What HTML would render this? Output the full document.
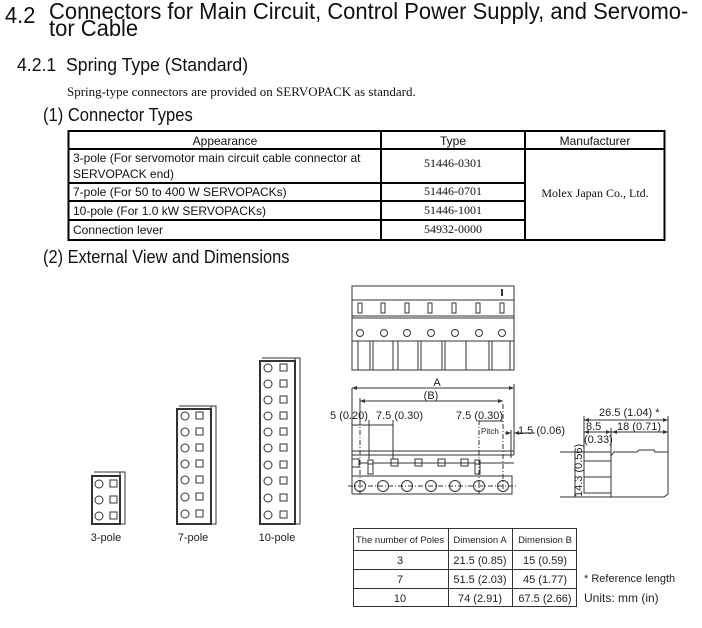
<!DOCTYPE html>
<html><head><meta charset="utf-8"><style>
body{margin:0;width:702px;height:628px;background:#fff;overflow:hidden;font-family:"Liberation Sans",sans-serif;color:#111}
.a{position:absolute;white-space:nowrap}
.s{font-family:"Liberation Serif",serif}
</style></head><body>
<div class="a" style="left:5px;top:3px;font-size:23px;line-height:24px;transform:scaleX(0.95);transform-origin:0 0">4.2</div>
<div class="a" style="left:49px;top:3px;font-size:23px;line-height:17px;transform:scaleX(0.955);transform-origin:0 0">Connectors for Main Circuit, Control Power Supply, and Servomo-<br>tor Cable</div>
<div class="a" style="left:17px;top:55px;font-size:18px;transform:scaleX(0.98);transform-origin:0 0">4.2.1&nbsp; Spring Type (Standard)</div>
<div class="a s" style="left:67px;top:84px;font-size:13px">Spring-type connectors are provided on SERVOPACK as standard.</div>
<div class="a" style="left:43px;top:105px;font-size:18px;transform:scaleX(0.92);transform-origin:0 0">(1) Connector Types</div>
<div class="a" style="left:43px;top:247px;font-size:18px;transform:scaleX(0.91);transform-origin:0 0">(2) External View and Dimensions</div>
<svg class="a" style="left:0;top:0" width="702" height="628" xmlns="http://www.w3.org/2000/svg" font-family="Liberation Sans, sans-serif" fill="none" stroke="#222">
<g stroke="#000" stroke-width="2">
<rect x="68.5" y="131" width="596" height="109"/>
<line x1="381" y1="131" x2="381" y2="240"/><line x1="525" y1="131" x2="525" y2="240"/>
<line x1="68" y1="149" x2="664" y2="149"/><line x1="68" y1="183" x2="525" y2="183"/>
<line x1="68" y1="201" x2="525" y2="201"/><line x1="68" y1="220" x2="525" y2="220"/>
</g>
<g fill="#111" stroke="none" font-size="12">
<text x="225" y="145" text-anchor="middle">Appearance</text>
<text x="453" y="145" text-anchor="middle">Type</text>
<text x="595" y="145" text-anchor="middle">Manufacturer</text>
<text x="73" y="162">3-pole (For servomotor main circuit cable connector at</text>
<text x="73" y="178">SERVOPACK end)</text>
<text x="73" y="196">7-pole (For 50 to 400 W SERVOPACKs)</text>
<text x="73" y="215">10-pole (For 1.0 kW SERVOPACKs)</text>
<text x="73" y="234">Connection lever</text>
<g font-family="Liberation Serif, serif"><text x="453" y="167" text-anchor="middle">51446-0301</text>
<text x="453" y="195" text-anchor="middle">51446-0701</text>
<text x="453" y="214" text-anchor="middle">51446-1001</text>
<text x="453" y="233" text-anchor="middle">54932-0000</text>
<text x="595" y="197" text-anchor="middle">Molex Japan Co., Ltd.</text></g>
</g>
<g stroke="#333" stroke-width="1">
<rect x="92" y="476" width="28" height="48" stroke-width="2"/><rect x="120" y="472" width="5" height="52"/><line x1="94" y1="472" x2="125" y2="472"/>
<rect x="177" y="409" width="34" height="115" stroke-width="2"/><rect x="211" y="406" width="5" height="118"/><line x1="179" y1="406" x2="216" y2="406"/>
<rect x="260" y="361" width="35" height="163" stroke-width="2"/><rect x="295" y="358" width="5" height="166"/><line x1="262" y1="358" x2="300" y2="358"/>
</g>
<g stroke="#333" stroke-width="1">
<circle cx="99" cy="484" r="4"/><circle cx="99" cy="500" r="4"/><circle cx="99" cy="516" r="4"/>
<rect x="110" y="480" width="7" height="7"/><rect x="110" y="496" width="7" height="7"/><rect x="110" y="512" width="7" height="7"/>
<circle cx="185" cy="416" r="4"/><circle cx="185" cy="432" r="4"/><circle cx="185" cy="448" r="4"/><circle cx="185" cy="464" r="4"/><circle cx="185" cy="480" r="4"/><circle cx="185" cy="497" r="4"/><circle cx="185" cy="514" r="4"/>
<rect x="196" y="412" width="7" height="7"/><rect x="196" y="428" width="7" height="7"/><rect x="196" y="444" width="7" height="7"/><rect x="196" y="460" width="7" height="7"/><rect x="196" y="476" width="7" height="7"/><rect x="196" y="493" width="7" height="7"/><rect x="196" y="510" width="7" height="7"/>
<circle cx="268" cy="368" r="4"/><circle cx="268" cy="384" r="4"/><circle cx="268" cy="400" r="4"/><circle cx="268" cy="416" r="4"/><circle cx="268" cy="432" r="4"/><circle cx="268" cy="448" r="4"/><circle cx="268" cy="465" r="4"/><circle cx="268" cy="481" r="4"/><circle cx="268" cy="498" r="4"/><circle cx="268" cy="515" r="4"/>
<rect x="280" y="364" width="7" height="7"/><rect x="280" y="380" width="7" height="7"/><rect x="280" y="396" width="7" height="7"/><rect x="280" y="412" width="7" height="7"/><rect x="280" y="428" width="7" height="7"/><rect x="280" y="444" width="7" height="7"/><rect x="280" y="461" width="7" height="7"/><rect x="280" y="477" width="7" height="7"/><rect x="280" y="494" width="7" height="7"/><rect x="280" y="511" width="7" height="7"/>
</g>
<g fill="#222" stroke="none" font-size="11">
<text x="106" y="541" text-anchor="middle">3-pole</text>
<text x="193" y="541" text-anchor="middle">7-pole</text>
<text x="277" y="541" text-anchor="middle">10-pole</text>
</g>
<g stroke="#333" stroke-width="1">
<rect x="352" y="286" width="162" height="84"/>
<line x1="352" y1="300" x2="514" y2="300"/><line x1="352" y1="316" x2="514" y2="316"/><line x1="352" y1="318" x2="514" y2="318"/>
<line x1="352" y1="341" x2="514" y2="341"/>
<g><rect x="358" y="303" width="4" height="10"/><rect x="381" y="303" width="4" height="10"/><rect x="405" y="303" width="4" height="10"/><rect x="428" y="303" width="4" height="10"/><rect x="452" y="303" width="4" height="10"/><rect x="476" y="303" width="4" height="10"/><rect x="500" y="303" width="4" height="10"/></g>
<g><circle cx="360" cy="333" r="3.5"/><circle cx="384" cy="333" r="3.5"/><circle cx="407" cy="333" r="3.5"/><circle cx="431" cy="333" r="3.5"/><circle cx="455" cy="333" r="3.5"/><circle cx="479" cy="333" r="3.5"/><circle cx="502" cy="333" r="3.5"/></g>
<line x1="358" y1="341" x2="358" y2="370"/><line x1="370" y1="341" x2="370" y2="370"/><line x1="373" y1="341" x2="373" y2="370"/>
<line x1="393" y1="341" x2="393" y2="370"/><line x1="398" y1="341" x2="398" y2="370"/><line x1="418" y1="341" x2="418" y2="370"/><line x1="421" y1="341" x2="421" y2="370"/>
<line x1="442" y1="341" x2="442" y2="370"/><line x1="445" y1="341" x2="445" y2="370"/><line x1="466" y1="341" x2="466" y2="370"/><line x1="489" y1="341" x2="489" y2="370"/><line x1="492" y1="341" x2="492" y2="370"/><line x1="510" y1="341" x2="510" y2="370"/>
<line x1="502" y1="289" x2="502" y2="296" stroke-width="2"/>
</g>
<g stroke="#333" stroke-width="1">
<line x1="352" y1="388" x2="352" y2="494"/><line x1="514" y1="384" x2="514" y2="455"/>
<line x1="352" y1="451" x2="514" y2="451"/><line x1="352" y1="455" x2="514" y2="455"/>
<rect x="352" y="459" width="7" height="8"/>
<path d="M359 463 H368 V474 H373 V463 H475 V474 H480 V463 H514"/>
<rect x="368" y="460" width="5" height="4"/><rect x="475" y="460" width="5" height="4"/>
<rect x="391" y="459" width="7" height="7"/><rect x="415" y="459" width="7" height="7"/><rect x="438" y="459" width="7" height="7"/><rect x="461" y="459" width="7" height="7"/>
<path d="M352 476 H512 V494 H352"/>
<circle cx="360" cy="486" r="5.5"/><circle cx="383" cy="486" r="5.5"/><circle cx="407" cy="486" r="5.5"/><circle cx="431" cy="486" r="5.5"/><circle cx="455" cy="486" r="5.5"/><circle cx="479" cy="486" r="5.5"/><circle cx="503" cy="486" r="5.5"/>
<line x1="348" y1="486" x2="516" y2="486" stroke-dasharray="5 2 1 2"/>
<g stroke-dasharray="5 2 1 2"><line x1="360" y1="420" x2="360" y2="494"/><line x1="479" y1="420" x2="479" y2="494"/><line x1="503" y1="404" x2="503" y2="494"/></g>
<line x1="369" y1="420" x2="369" y2="459"/><line x1="393" y1="420" x2="393" y2="459"/>
<line x1="360" y1="398" x2="360" y2="420"/><line x1="511" y1="458" x2="511" y2="430"/>
<line x1="352" y1="388" x2="514" y2="388"/><line x1="360" y1="401" x2="503" y2="401"/>
<line x1="352" y1="425" x2="369" y2="425"/><line x1="369" y1="425" x2="393" y2="425"/><line x1="479" y1="421" x2="503" y2="421"/>
<line x1="505" y1="433" x2="511" y2="433"/><line x1="514" y1="433" x2="535" y2="433"/>
</g>
<g fill="#333" stroke="none">
<path d="M352 388 l5 -2 v4z"/><path d="M514 388 l-5 -2 v4z"/><path d="M360 401 l5 -2 v4z"/><path d="M503 401 l-5 -2 v4z"/>
<path d="M514 433 l5 -2 v4z"/><path d="M511 433 l-5 -2 v4z"/>
<path d="M584 420 l5 -2 v4z"/><path d="M668 420 l-5 -2 v4z"/><path d="M584 432 l5 -2 v4z"/><path d="M611 432 l-5 -2 v4z"/><path d="M612 432 l5 -2 v4z"/><path d="M668 432 l-5 -2 v4z"/>
</g>
<g fill="#222" stroke="none" font-size="11">
<text x="437" y="386" text-anchor="middle">A</text>
<text x="431" y="399" text-anchor="middle">(B)</text>
<text x="330" y="419">5 (0.20)</text><text x="376" y="419">7.5 (0.30)</text><text x="456" y="419">7.5 (0.30)</text>
<text x="481" y="434" font-size="8">Pitch</text><text x="518" y="434">1.5 (0.06)</text>
</g>
<g stroke="#333" stroke-width="1">
<path d="M611 456 L614 452 H637 L639 450 H654 L655 452 H668 V494 L664 497 H611 Z"/>
<rect x="584" y="461" width="27" height="32"/><line x1="584" y1="477" x2="611" y2="477"/>
<line x1="584" y1="416" x2="584" y2="461"/><line x1="611" y1="428" x2="611" y2="456"/><line x1="668" y1="416" x2="668" y2="452"/>
<line x1="584" y1="420" x2="668" y2="420"/><line x1="584" y1="432" x2="668" y2="432"/>
<line x1="560" y1="452" x2="611" y2="452"/><line x1="560" y1="497" x2="611" y2="497"/><line x1="575" y1="452" x2="575" y2="497"/>
</g>
<g fill="#222" stroke="none" font-size="11">
<text x="599" y="416">26.5 (1.04) *</text>
<text x="586" y="430">8.5</text><text x="617" y="430">18 (0.71)</text>
<text x="584" y="443">(0.33)</text>
<text transform="translate(582 497) rotate(-90)">14.3 (0.56)</text>
</g>
<g stroke="#333" stroke-width="1">
<rect x="353.5" y="528.5" width="223" height="78"/>
<line x1="448.5" y1="528" x2="448.5" y2="607"/><line x1="512.5" y1="528" x2="512.5" y2="607"/>
<line x1="353" y1="550.5" x2="577" y2="550.5"/><line x1="353" y1="569.5" x2="577" y2="569.5"/><line x1="353" y1="588.5" x2="577" y2="588.5"/>
</g>
<g fill="#222" stroke="none" font-size="9.5">
<text x="400" y="543" text-anchor="middle">The number of Poles</text>
<text x="480" y="543" text-anchor="middle">Dimension A</text>
<text x="545" y="543" text-anchor="middle">Dimension B</text>
</g>
<g fill="#222" stroke="none" font-size="11">
<text x="400" y="564" text-anchor="middle">3</text><text x="480" y="564" text-anchor="middle">21.5 (0.85)</text><text x="545" y="564" text-anchor="middle">15 (0.59)</text>
<text x="400" y="583" text-anchor="middle">7</text><text x="480" y="583" text-anchor="middle">51.5 (2.03)</text><text x="545" y="583" text-anchor="middle">45 (1.77)</text>
<text x="400" y="602" text-anchor="middle">10</text><text x="480" y="602" text-anchor="middle">74 (2.91)</text><text x="545" y="602" text-anchor="middle">67.5 (2.66)</text>
<text x="584" y="582">* Reference length</text>
<text x="584" y="602" font-size="12">Units: mm (in)</text>
</g>
</svg>
</body></html>
